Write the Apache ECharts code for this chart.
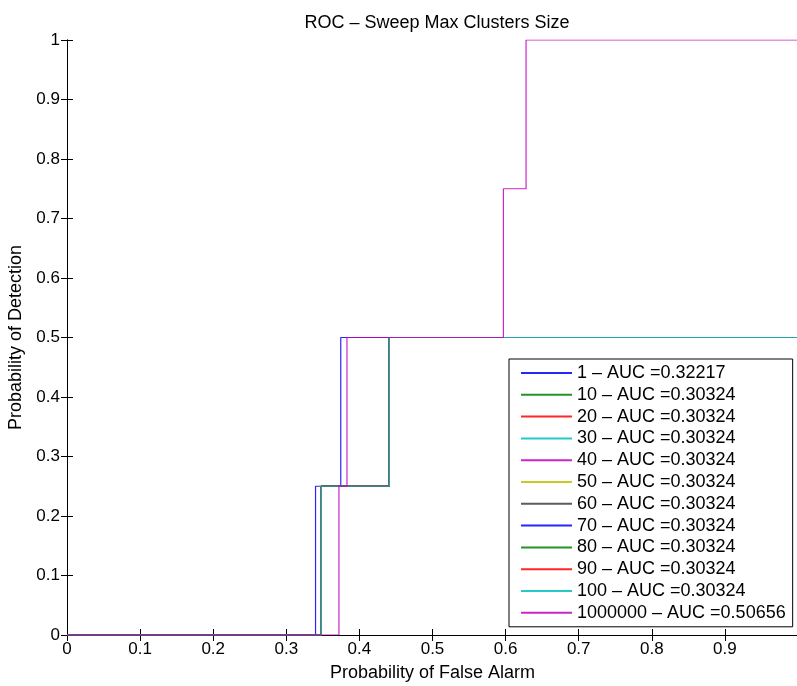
<!DOCTYPE html>
<html>
<head>
<meta charset="utf-8">
<script src="https://cdn.jsdelivr.net/npm/echarts@6/dist/echarts.min.js"></script>
<style>
  html, body { margin: 0; padding: 0; background: #fff; }
  #chart { width: 797px; height: 686px; }
</style>
</head>
<body>
<div id="chart"></div>
<script>
// ROC curves, one per max cluster size; points are (Pfa, Pd) corners of each step
const sizes = ['1', '10', '20', '30', '40', '50', '60', '70', '80', '90', '100', '1000000'];
const aucs = ['0.32217', '0.30324', '0.30324', '0.30324', '0.30324', '0.30324',
              '0.30324', '0.30324', '0.30324', '0.30324', '0.30324', '0.50656'];

const pfaSize1 = [0, 0.340, 0.3745, 1];
const pdSize1  = [0, 0.25, 0.5, 0.5];

// sizes 10 .. 100 give the same curve
const pfaMid = [0, 0.348, 0.441, 1];
const pdMid  = [0, 0.25, 0.5, 0.5];

const pfaBig = [0, 0.372, 0.383, 0.597, 0.628, 1];
const pdBig  = [0, 0.25, 0.5, 0.75, 1, 1];

const curvePfa = [pfaSize1, pfaMid, pfaMid, pfaMid, pfaMid, pfaMid,
                  pfaMid, pfaMid, pfaMid, pfaMid, pfaMid, pfaBig];
const curvePd  = [pdSize1, pdMid, pdMid, pdMid, pdMid, pdMid,
                  pdMid, pdMid, pdMid, pdMid, pdMid, pdBig];

// MATLAB default line colour cycle: b g r c m y k
const colorCycle = ['#0000ff', '#008000', '#ff0000', '#00bfbf', '#bf00bf', '#bfbf00', '#404040'];

const FONT = 'Liberation Sans, Arial, sans-serif';

// later curves are stacked above earlier ones
const series = sizes.map((s, i) => ({
  name: s + ' \u2013 AUC =' + aucs[i],
  type: 'line',
  step: 'end',
  symbol: 'none',
  showSymbol: false,
  animation: false,
  z: 10 + i,
  data: curvePfa[i].map((x, k) => [x, curvePd[i][k]]),
  lineStyle: { width: 1.2, color: colorCycle[i % colorCycle.length], opacity: 0.85 },
  itemStyle: { color: colorCycle[i % colorCycle.length] }
}));

const axisCommon = {
  type: 'value',
  min: 0,
  max: 1,
  interval: 0.1,
  axisLine: { show: true, lineStyle: { color: '#000', width: 1 } },
  axisTick: { show: true, inside: true, length: 6, lineStyle: { color: '#000' } },
  splitLine: { show: false }
};

const chart = echarts.init(document.getElementById('chart'), null, { renderer: 'canvas' });
chart.setOption({
  backgroundColor: '#fff',
  animation: false,
  title: {
    text: 'ROC \u2013 Sweep Max Clusters Size',
    left: 432,
    textAlign: 'center',
    top: 9,
    textStyle: { fontFamily: FONT, fontSize: 18, fontWeight: 'normal', color: '#000' }
  },
  grid: { left: 67, right: -1, top: 40, bottom: 51, containLabel: false, outerBoundsMode: 'none' },
  xAxis: [
    Object.assign({}, axisCommon, {
      position: 'bottom',
      name: 'Probability of False Alarm',
      nameLocation: 'middle',
      nameGap: 29,
      nameTextStyle: { fontFamily: FONT, fontSize: 18, color: '#000' },
      axisLabel: {
        fontFamily: FONT, fontSize: 17, color: '#000', margin: 6,
        formatter: v => (v >= 1 ? '' : String(+v.toFixed(1)))
      }
    }),
    Object.assign({}, axisCommon, { position: 'top', axisLabel: { show: false } })
  ],
  yAxis: [
    Object.assign({}, axisCommon, {
      position: 'left',
      name: 'Probability of Detection',
      nameLocation: 'middle',
      nameGap: 32,
      nameTextStyle: { fontFamily: FONT, fontSize: 18, color: '#000' },
      axisLabel: {
        fontFamily: FONT, fontSize: 17, color: '#000', margin: 7,
        formatter: v => String(+v.toFixed(1))
      }
    }),
    Object.assign({}, axisCommon, { position: 'right', axisLabel: { show: false } })
  ],
  legend: {
    orient: 'vertical',
    left: 509,
    top: 359,
    padding: [4, 7, 4, 11],
    itemWidth: 51,
    itemHeight: 20,
    itemGap: 1.8,
    z: 40,
    backgroundColor: '#fff',
    borderColor: '#000',
    borderWidth: 1,
    borderRadius: 0,
    itemStyle: { opacity: 0 },
    textStyle: { fontFamily: FONT, fontSize: 18, lineHeight: 20, color: '#000' },
    data: series.map(s => s.name)
  },
  series: series
});
</script>
</body>
</html>
